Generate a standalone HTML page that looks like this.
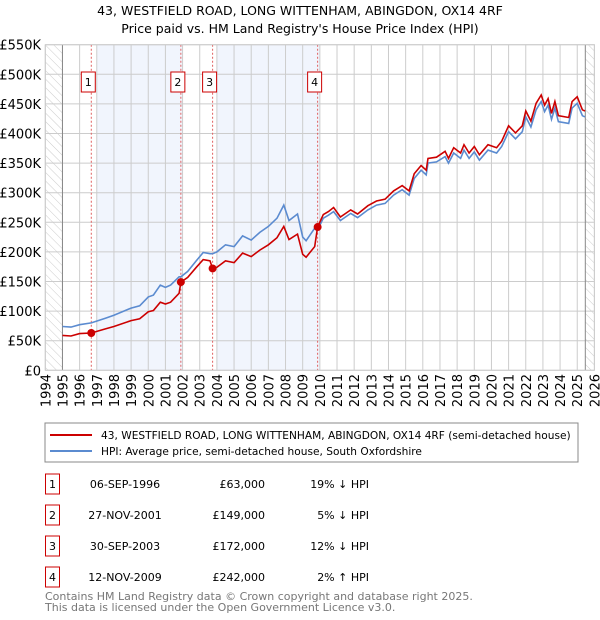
<!DOCTYPE html>
<html><head><meta charset="utf-8"><style>
body{margin:0;background:#fff;font-family:"DejaVu Sans","Liberation Sans",sans-serif;}
svg{display:block}
text{font-family:"DejaVu Sans","Liberation Sans",sans-serif;}
</style></head><body>
<svg id="c" width="600" height="620" viewBox="0 0 600 620">
<defs><pattern id="hatch" width="6" height="6" patternUnits="userSpaceOnUse" patternTransform="rotate(-45)"><line x1="0" y1="0" x2="0" y2="6" stroke="#ccc" stroke-width="1"/></pattern></defs>
<text x="300" y="15" text-anchor="middle" font-size="12.5">43, WESTFIELD ROAD, LONG WITTENHAM, ABINGDON, OX14 4RF</text>
<text x="300" y="33" text-anchor="middle" font-size="12.5">Price paid vs. HM Land Registry's House Price Index (HPI)</text>
<g id="plot"></g>
<rect x="45" y="423" width="533" height="39" fill="#fff" stroke="#888"/>
<line x1="50" y1="435" x2="92" y2="435" stroke="#cc0000" stroke-width="2"/>
<text x="101" y="439" font-size="10.6">43, WESTFIELD ROAD, LONG WITTENHAM, ABINGDON, OX14 4RF (semi-detached house)</text>
<line x1="50" y1="451" x2="92" y2="451" stroke="#5b8bd0" stroke-width="2"/>
<text x="101" y="455" font-size="10.6">HPI: Average price, semi-detached house, South Oxfordshire</text>
<g id="table" font-size="11"></g>
<text x="45" y="600" font-size="11" fill="#777">Contains HM Land Registry data © Crown copyright and database right 2025.</text>
<text x="45" y="611" font-size="11" fill="#777">This data is licensed under the Open Government Licence v3.0.</text>
</svg>
<script>
const hpiYears=[1995.0,1995.5,1996.0,1996.68,1997.5,1998.0,1999.0,1999.5,2000.0,2000.3,2000.7,2001.0,2001.3,2001.8,2001.9,2002.3,2002.8,2003.2,2003.6,2003.75,2004.0,2004.5,2005.0,2005.5,2006.0,2006.5,2007.0,2007.5,2007.9,2008.2,2008.7,2009.0,2009.2,2009.7,2009.87,2010.2,2010.5,2010.8,2011.2,2011.8,2012.2,2012.8,2013.3,2013.8,2014.3,2014.8,2015.2,2015.5,2015.9,2016.2,2016.3,2016.8,2017.3,2017.5,2017.8,2018.2,2018.4,2018.7,2019.0,2019.3,2019.8,2020.3,2020.6,2021.0,2021.4,2021.8,2022.0,2022.3,2022.6,2022.9,2023.1,2023.3,2023.5,2023.7,2023.9,2024.5,2024.7,2025.0,2025.3,2025.45];
const hpiValues=[74,73,77,80,88,93,105,109,124,127,144,140,144,158,158,167,185,199,197,197,200,212,209,227,220,233,243,257,279,253,264,225,219,240,237,257,262,268,253,265,258,271,279,282,296,305,296,324,338,330,350,352,361,350,367,358,372,358,369,355,372,367,378,403,391,403,428,411,440,454,437,448,424,443,420,417,443,451,430,428];
const priceValues=[59,58,62,63,70,74,84,87,99,101,115,112,115,130,149,157,174,187,185,172,174,185,182,198,192,203,212,224,243,221,230,196,191,209,242,263,268,275,259,271,264,278,286,289,303,312,303,332,346,338,358,360,370,358,376,367,381,367,378,364,381,376,387,413,401,413,438,421,451,465,448,459,434,454,430,427,454,462,440,438];
const saleYears=[1996.68,2001.9,2003.75,2009.87];
const salePrices=[63,149,172,242];
const saleLabels=["1","2","3","4"];
const saleDates=["06-SEP-1996","27-NOV-2001","30-SEP-2003","12-NOV-2009"];
const salePriceText=["£63,000","£149,000","£172,000","£242,000"];
const saleDiffs=["19% ↓ HPI","5% ↓ HPI","12% ↓ HPI","2% ↑ HPI"];
const yTicks=[0,50,100,150,200,250,300,350,400,450,500,550];
const yTickLabels=["£0","£50K","£100K","£150K","£200K","£250K","£300K","£350K","£400K","£450K","£500K","£550K"];
const xTicks=[1994,1995,1996,1997,1998,1999,2000,2001,2002,2003,2004,2005,2006,2007,2008,2009,2010,2011,2012,2013,2014,2015,2016,2017,2018,2019,2020,2021,2022,2023,2024,2025,2026];

const NS="http://www.w3.org/2000/svg";
const X0=45.3,X1=594.4,Y0=370.3,Y1=44.7;
const xs=y=>X0+(y-1994)/(2026-1994)*(X1-X0);
const ys=v=>Y0-v/550*(Y0-Y1);
const plot=document.getElementById('plot');
function mk(tag,attrs,parent){const e=document.createElementNS(NS,tag);for(const k in attrs)e.setAttribute(k,attrs[k]);(parent||plot).appendChild(e);return e;}
let e;
e=mk('rect',{x:X0,y:Y1,width:X1-X0,height:Y0-Y1,fill:'#fff'});


const bands=[[1997,2002],[2004,2010]];
bands.forEach(b=>{e=mk('rect',{x:xs(b[0]),y:Y1,width:xs(b[1])-xs(b[0]),height:Y0-Y1,fill:'#eef3fc',opacity:0.8});

});
e=mk('rect',{x:X0,y:Y1,width:xs(1995)-X0,height:Y0-Y1,fill:'url(#hatch)'});


e=mk('rect',{x:xs(2025.47),y:Y1,width:X1-xs(2025.47),height:Y0-Y1,fill:'url(#hatch)'});


yTicks.forEach((t,i)=>{e=mk('line',{x1:X0,x2:X1,y1:ys(t),y2:ys(t),stroke:'#ccc','stroke-width':1});


e=mk('text',{x:41,y:ys(t)+5,'text-anchor':'end','font-size':13});e.textContent=yTickLabels[i];

});
xTicks.forEach(t=>{e=mk('line',{x1:xs(t),x2:xs(t),y1:Y1,y2:Y0,stroke:'#ccc','stroke-width':1});


e=mk('text',{x:0,y:0,'text-anchor':'end','font-size':13,transform:`translate(${xs(t)+5},374) rotate(-90)`});e.textContent=t;

});
e=mk('line',{x1:xs(1995),x2:xs(1995),y1:Y1,y2:Y0,stroke:'#888'});


e=mk('line',{x1:xs(2025.47),x2:xs(2025.47),y1:Y1,y2:Y0,stroke:'#888'});


saleYears.forEach((s,i)=>{e=mk('line',{x1:xs(s),x2:xs(s),y1:Y1,y2:Y0,stroke:'#e06060','stroke-dasharray':'2,2','stroke-width':1});


e=mk('rect',{x:xs(s)-10,y:72,width:14,height:20,fill:'#fff',stroke:'#cc0000'});


e=mk('text',{x:xs(s)-3,y:86,'text-anchor':'middle','font-size':11});e.textContent=saleLabels[i];

});
const pts=v=>hpiYears.map((y,i)=>xs(y).toFixed(1)+','+ys(v[i]).toFixed(1)).join(' ');
e=mk('polyline',{points:pts(hpiValues),fill:'none',stroke:'#5b8bd0','stroke-width':1.6});


e=mk('polyline',{points:pts(priceValues),fill:'none',stroke:'#cc0000','stroke-width':1.6});


saleYears.forEach((s,i)=>{e=mk('circle',{cx:xs(s),cy:ys(salePrices[i]),r:4,fill:'#cc0000'});

});
e=mk('rect',{x:X0,y:Y1,width:X1-X0,height:Y0-Y1,fill:'none',stroke:'#ccc'});


const tb=document.getElementById('table');
const rowY=[487,518,549,580];
saleLabels.forEach((l,i)=>{const y=rowY[i];
e=mk('rect',{x:45.5,y:y-13,width:14,height:20,fill:'#fff',stroke:'#cc0000'},tb);


e=mk('text',{x:52.5,y:y+1,'text-anchor':'middle'},tb);e.textContent=l;


e=mk('text',{x:125,y:y+1,'text-anchor':'middle'},tb);e.textContent=saleDates[i];


e=mk('text',{x:265,y:y+1,'text-anchor':'end'},tb);e.textContent=salePriceText[i];


e=mk('text',{x:369,y:y+1,'text-anchor':'end'},tb);e.textContent=saleDiffs[i];

});
</script>
</body></html>
